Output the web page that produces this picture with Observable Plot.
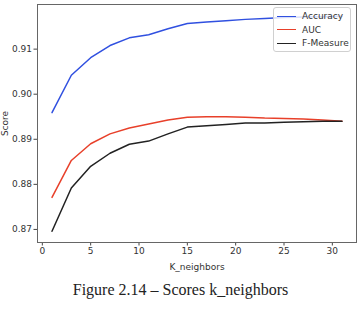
<!DOCTYPE html>
<html>
<head>
<meta charset="utf-8">
<script src="https://cdn.jsdelivr.net/npm/d3@7"></script>
<script src="https://cdn.jsdelivr.net/npm/@observablehq/plot@0.6"></script>
<style>
  html, body { margin: 0; padding: 0; background: #fff; }
  #wrap { position: relative; width: 361px; }
  #legend {
    position: absolute; left: 273px; top: 7px; width: 78px; height: 45px;
    background: rgba(255,255,255,0.8); border: 1px solid #d0d0d0; border-radius: 3px;
    font: 9px "DejaVu Sans", sans-serif; color: #333; box-sizing: border-box;
  }
  .row { position: absolute; left: 3px; height: 12px; display: flex; align-items: center; }
  .sw { width: 19px; height: 0; border-top: 1.5px solid; margin-right: 6px; }
  #caption { font: 16px "Liberation Serif", "Times New Roman", serif; text-align: center; width: 361px; color: #222; line-height: 20px; }
</style>
</head>
<body>
<div id="wrap"><div id="chart"></div><div id="legend"></div></div>
<div id="caption">Figure 2.14 – Scores k_neighbors</div>
<script>
const kValues = [1, 3, 5, 7, 9, 11, 13, 15, 17, 19, 21, 23, 25, 27, 29, 31];
const accuracy = [0.8959, 0.9042, 0.9081, 0.9108, 0.9125, 0.9132, 0.9145, 0.9157, 0.9160, 0.9163, 0.9166, 0.9168, 0.9170, 0.9171, 0.9172, 0.9173];
const auc      = [0.8771, 0.8853, 0.8890, 0.8912, 0.8925, 0.8934, 0.8943, 0.8949, 0.8950, 0.8950, 0.8949, 0.8947, 0.8946, 0.8945, 0.8943, 0.8940];
const fMeasure = [0.8696, 0.8792, 0.8840, 0.8869, 0.8889, 0.8896, 0.8912, 0.8927, 0.8930, 0.8933, 0.8936, 0.8936, 0.8938, 0.8939, 0.8940, 0.8940];
const seriesNames = ["Accuracy", "AUC", "F-Measure"];
const seriesColors = ["#3050e0", "#e8402a", "#222222"];
const xTicks = [0, 5, 10, 15, 20, 25, 30];
const yTicks = [0.87, 0.88, 0.89, 0.90, 0.91];

const seriesValues = [accuracy, auc, fMeasure];
const data = [];
seriesNames.forEach((name, i) => {
  kValues.forEach((k, j) => data.push({k, value: seriesValues[i][j], series: name}));
});

const chart = Plot.plot({
  width: 361,
  height: 280,
  marginLeft: 37,
  marginRight: 5,
  marginTop: 4,
  marginBottom: 38,
  style: {fontFamily: "DejaVu Sans, sans-serif", fontSize: "9px", color: "#333", background: "#fff"},
  x: {domain: [-0.5, 32.5]},
  y: {domain: [0.8671, 0.9199]},
  color: {domain: seriesNames, range: seriesColors},
  marks: [
    Plot.axisX({ticks: xTicks, tickSize: 3.5, tickPadding: 2, fontSize: 9, label: "K_neighbors", labelAnchor: "center", labelArrow: "none", labelOffset: 27, stroke: "#444"}),
    Plot.axisY({ticks: yTicks, tickFormat: d3.format(".2f"), tickSize: 3.5, tickPadding: 2, fontSize: 9, label: "Score", labelAnchor: "center", labelArrow: "none", labelOffset: 36, stroke: "#444"}),
    Plot.line(data, {x: "k", y: "value", z: "series", stroke: "series", strokeWidth: 1.5}),
    Plot.frame({stroke: "#666", strokeWidth: 1})
  ]
});
document.getElementById("chart").appendChild(chart);

const legend = document.getElementById("legend");
seriesNames.forEach((name, i) => {
  const row = document.createElement("div");
  row.className = "row";
  row.style.top = (2 + i * 13.5) + "px";
  const sw = document.createElement("span");
  sw.className = "sw";
  sw.style.borderColor = seriesColors[i];
  const t = document.createElement("span");
  t.textContent = name;
  row.appendChild(sw); row.appendChild(t);
  legend.appendChild(row);
});
</script>
</body>
</html>
